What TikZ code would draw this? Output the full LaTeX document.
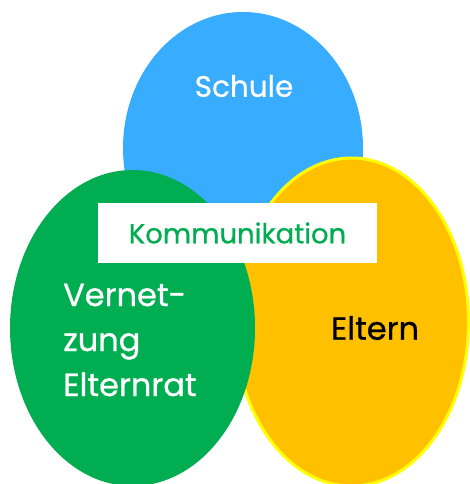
\documentclass[tikz,border=0pt]{standalone}
\usepackage{fontspec}
\setmainfont{Poppins}[FakeBold=0.7]
\usetikzlibrary{shapes.geometric}

\definecolor{schulblau}{RGB}{56,172,255}
\definecolor{elterngold}{RGB}{255,192,0}
\definecolor{randgelb}{RGB}{255,255,0}
\definecolor{ratgruen}{RGB}{0,173,80}

\begin{document}
\begin{tikzpicture} [
            x=1pt,
            y=-1pt,
            blob/.style = {ellipse,inner sep=0pt,outer sep=0pt},
            blob text/.style = {font=\fontsize{32}{45}\selectfont,inner sep=0pt},
            banner/.style = {rectangle,fill=white,minimum width=279pt,minimum height=60pt,
                             inner sep=0pt,text=ratgruen,font=\fontsize{27.5}{33}\selectfont}
        ]
        \useasboundingbox (0,0) rectangle (470,484);
        % First we draw the three ellipses, back to front
        \node[blob, fill=schulblau, minimum width=240pt, minimum height=272pt] (schule) at (243,148) {};
        \node[blob, fill=elterngold, draw=randgelb, line width=3pt,
              minimum width=234pt, minimum height=328pt] (eltern) at (351.5,322) {};
        \node[blob, fill=ratgruen, minimum width=245pt, minimum height=316pt] (rat) at (132.5,328) {};
        % then the texts in them
        \node[blob text, text=white, font=\fontsize{29.5}{45}\selectfont] (schule text) at (244,86) {Schule};
        \node[blob text, text=black] (eltern text) at (375,328) {Eltern};
        \node[blob text, text=white, align=left, anchor=west] (rat text) at (63,340)
            {Vernet-\\zung\\Elternrat};
        % and the white banner on top
        \node[banner] (kommunikation) at (237.5,233) {Kommunikation};
    \end{tikzpicture}
\end{document}
